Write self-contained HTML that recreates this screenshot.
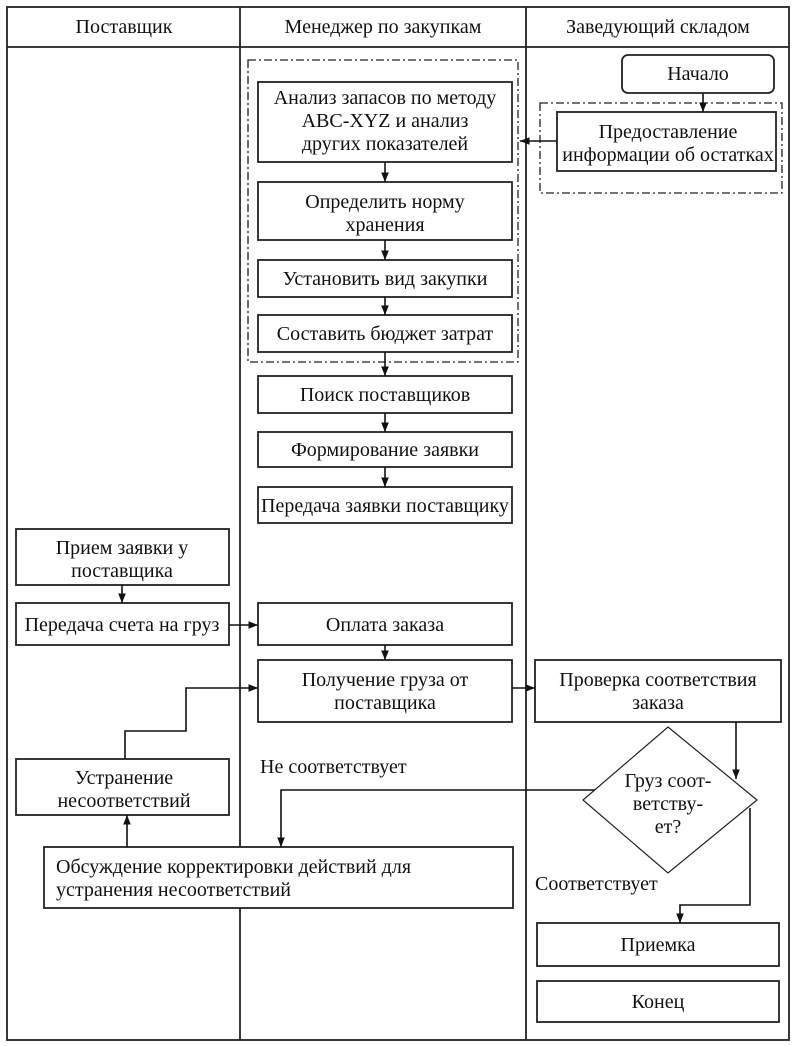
<!DOCTYPE html>
<html><head><meta charset="utf-8"><style>
html,body{margin:0;padding:0;background:#fff}
svg{display:block}
text{font-family:"Liberation Serif","Noto Serif CJK SC",serif;font-size:20px;fill:#111}
</style></head><body>
<svg width="796" height="1046" viewBox="0 0 796 1046" xmlns="http://www.w3.org/2000/svg">
<defs><marker id="a" viewBox="0 0 10 10" refX="10" refY="5" markerWidth="6" markerHeight="6" orient="auto"><path d="M0,1 L10,5 L0,9 z" fill="#111"/></marker></defs>
<g fill="none" stroke="#222" stroke-width="1.8">
<rect x="7" y="7" width="782" height="1033"/>
<line x1="7" y1="47" x2="789" y2="47"/>
<line x1="240" y1="7" x2="240" y2="1040"/>
<line x1="526" y1="7" x2="526" y2="1040"/>
</g>
<g fill="#fff" stroke="#222" stroke-width="1.8">
<rect x="248" y="60" width="270" height="302" stroke-dasharray="8,3,2,3" stroke-width="1.3"/>
<rect x="540" y="103" width="242" height="90" stroke-dasharray="8,3,2,3" stroke-width="1.3"/>
<rect x="258" y="82" width="254" height="80"/>
<rect x="258" y="182" width="254" height="58"/>
<rect x="258" y="260" width="254" height="37"/>
<rect x="258" y="315" width="254" height="37"/>
<rect x="622" y="55" width="152" height="38" rx="6"/>
<rect x="557" y="112" width="219" height="59"/>
<rect x="258" y="376" width="254" height="37"/>
<rect x="258" y="432" width="254" height="35"/>
<rect x="258" y="487" width="254" height="36"/>
<rect x="16" y="529" width="213" height="56"/>
<rect x="16" y="603" width="213" height="42"/>
<rect x="258" y="603" width="254" height="42"/>
<rect x="258" y="660" width="254" height="62"/>
<rect x="535" y="660" width="246" height="62"/>
<polygon points="668,727 757,800 668,873 583,800" stroke-width="1.2"/>
<rect x="16" y="759" width="213" height="56"/>
<rect x="44" y="847" width="469" height="61"/>
<rect x="537" y="923" width="242" height="43"/>
<rect x="537" y="981" width="242" height="41"/>
</g>
<g fill="none" stroke="#111" stroke-width="1.6" marker-end="url(#a)">
<line x1="385" y1="162" x2="385" y2="182"/>
<line x1="385" y1="240" x2="385" y2="260"/>
<line x1="385" y1="297" x2="385" y2="315"/>
<line x1="385" y1="352" x2="385" y2="376"/>
<line x1="385" y1="413" x2="385" y2="432"/>
<line x1="385" y1="467" x2="385" y2="487"/>
<line x1="703" y1="93" x2="703" y2="112"/>
<line x1="557" y1="141" x2="520" y2="141"/>
<line x1="122" y1="585" x2="122" y2="603"/>
<line x1="229" y1="625" x2="258" y2="625"/>
<line x1="385" y1="645" x2="385" y2="660"/>
<line x1="512" y1="688" x2="535" y2="688"/>
<polyline points="125,759 125,731 186,731 186,688 258,688"/>
<line x1="127" y1="847" x2="127" y2="815"/>
<polyline points="595,790 281,790 281,847"/>
<polyline points="736,722 736,779"/>
<polyline points="750,808 750,905 680,905 680,923"/>
</g>
<g text-anchor="middle">
<text x="124" y="33">Поставщик</text>
<text x="383" y="33">Менеджер по закупкам</text>
<text x="658" y="33">Заведующий складом</text>
<text x="385" y="104">Анализ запасов по методу</text>
<text x="385" y="127">ABC-XYZ и анализ</text>
<text x="385" y="150">других показателей</text>
<text x="385" y="208">Определить норму</text>
<text x="385" y="231">хранения</text>
<text x="385" y="285">Установить вид закупки</text>
<text x="385" y="340">Составить бюджет затрат</text>
<text x="698" y="80">Начало</text>
<text x="668" y="138">Предоставление</text>
<text x="668" y="161">информации об остатках</text>
<text x="385" y="401">Поиск поставщиков</text>
<text x="385" y="456">Формирование заявки</text>
<text x="385" y="512">Передача заявки поставщику</text>
<text x="122" y="554">Прием заявки у</text>
<text x="122" y="577">поставщика</text>
<text x="122" y="631">Передача счета на груз</text>
<text x="385" y="631">Оплата заказа</text>
<text x="385" y="686">Получение груза от</text>
<text x="385" y="709">поставщика</text>
<text x="658" y="686">Проверка соответствия</text>
<text x="658" y="709">заказа</text>
<text x="668" y="787">Груз соот-</text>
<text x="668" y="810">ветству-</text>
<text x="668" y="833">ет?</text>
<text x="124" y="784">Устранение</text>
<text x="124" y="807">несоответствий</text>
<text x="658" y="951">Приемка</text>
<text x="658" y="1008">Конец</text>
</g>
<text x="56" y="873">Обсуждение корректировки действий для</text>
<text x="56" y="896">устранения несоответствий</text>
<text x="260" y="773">Не соответствует</text>
<text x="535" y="890">Соответствует</text>
</svg>
</body></html>
